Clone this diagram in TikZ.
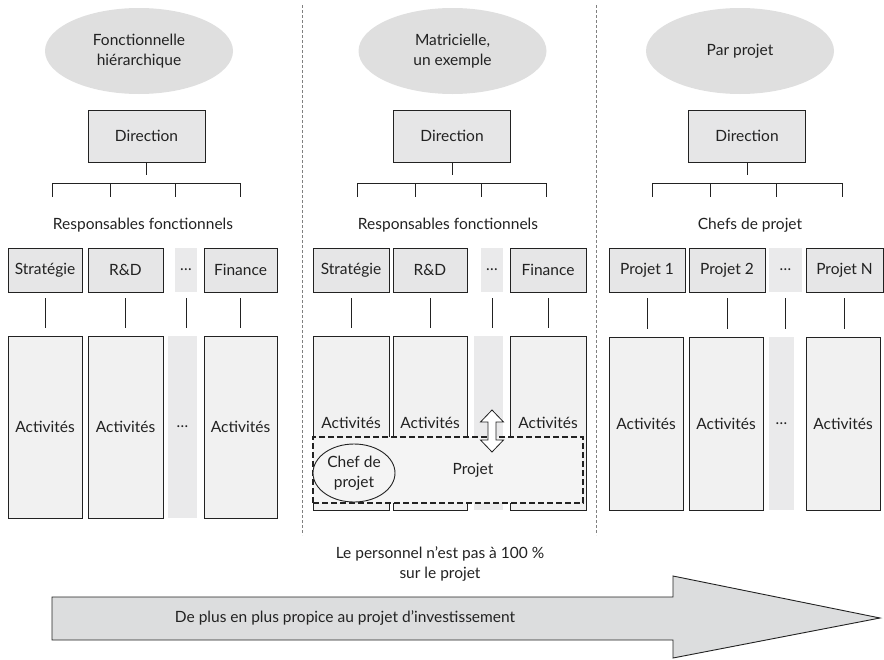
\documentclass[tikz,border=0pt]{standalone}
\usepackage{fontspec}
\setmainfont{Lato}
\usetikzlibrary{positioning,calc,shapes.geometric}
\definecolor{ellgray}{HTML}{DFDFDF}
\definecolor{boxgray}{HTML}{E6E6E7}
\definecolor{actgray}{HTML}{F1F1F1}
\definecolor{gapgray}{HTML}{EAEAEB}
\definecolor{projgray}{HTML}{F4F4F4}
\definecolor{arrgray}{HTML}{DCDDDE}
\definecolor{ink}{HTML}{222222}

\begin{document}
\begin{tikzpicture}[
    x=1pt, y=-1pt,
    every node/.style={align=center, font=\fontsize{15.5}{19.5}\selectfont, text=ink},
    kind/.style={
        ellipse, fill=ellgray, minimum width=188pt, minimum height=86pt
    },
    dirbox/.style={
        rectangle, draw=ink, fill=boxgray, line width=0.9pt,
        minimum width=117pt, minimum height=52pt
    },
    headbox/.style={
        rectangle, draw=ink, fill=boxgray, line width=0.9pt,
        minimum height=44pt, inner sep=0pt
    },
    gapbox/.style={rectangle, fill=gapgray, inner sep=0pt},
    actbox/.style={
        rectangle, draw=ink, fill=actgray, line width=0.9pt, inner sep=0pt
    },
    stem/.style={ink, line width=0.9pt},
    divider/.style={gray, line width=0.7pt, dash pattern=on 3pt off 2pt}
]
\useasboundingbox (0,0) rectangle (884,659);

% séparateurs
\draw[divider] (302,5) -- (302,535);
\draw[divider] (596,5) -- (596,535);

% Fonctionnelle hiérarchique
\node[kind] (hier-kind) at (139,51) {Fonctionnelle\\hiérarchique};
\node[dirbox] (hier-dir) at (146.5,136) {Direction};
\node (hier-title) at (143,225) {Responsables fonctionnels};
\node[headbox, minimum width=74pt] (hier-strat) at (45,270) {Stratégie};
\node[headbox, minimum width=75pt] (hier-rd) at (125.5,270) {R\&D};
\node[gapbox, minimum width=22pt, minimum height=44pt] (hier-gap) at (186,270) {\dots};
\node[headbox, minimum width=73pt] (hier-fin) at (240.5,270) {Finance};
\node[actbox, minimum width=74pt, minimum height=182pt] (hier-act1) at (45,427) {Activités};
\node[actbox, minimum width=75pt, minimum height=182pt] (hier-act2) at (125.5,427) {Activités};
\node[gapbox, minimum width=29pt, minimum height=182pt] (hier-act3) at (182.5,427) {\dots};
\node[actbox, minimum width=73pt, minimum height=182pt] (hier-act4) at (240.5,427) {Activités};

% Matricielle
\node[kind] (mat-kind) at (452.5,51) {Matricielle,\\un exemple};
\node[dirbox] (mat-dir) at (452,136) {Direction};
\node (mat-title) at (448,225) {Responsables fonctionnels};
\node[headbox, minimum width=76pt] (mat-strat) at (351,270) {Stratégie};
\node[headbox, minimum width=74pt] (mat-rd) at (430,270) {R\&D};
\node[gapbox, minimum width=22pt, minimum height=44pt] (mat-gap) at (492,270) {\dots};
\node[headbox, minimum width=76pt] (mat-fin) at (548,270) {Finance};
\node[actbox, minimum width=76pt, minimum height=174pt] (mat-act1) at (351,423) {Activités};
\node[actbox, minimum width=74pt, minimum height=174pt] (mat-act2) at (430,423) {Activités};
\node[gapbox, minimum width=29pt, minimum height=174pt] (mat-act3) at (488.5,423) {};
\node[actbox, minimum width=76pt, minimum height=174pt] (mat-act4) at (548,423) {Activités};

% Par projet
\node[kind] (proj-kind) at (740,51) {Par projet};
\node[dirbox] (proj-dir) at (747,136) {Direction};
\node (proj-title) at (750,225) {Chefs de projet};
\node[headbox, minimum width=76pt] (proj-p1) at (647,270) {Projet 1};
\node[headbox, minimum width=76pt] (proj-p2) at (727,270) {Projet 2};
\node[gapbox, minimum width=33pt, minimum height=44pt] (proj-gap) at (785.5,270) {\dots};
\node[headbox, minimum width=77pt] (proj-pn) at (844.5,270) {Projet N};
\node[actbox, minimum width=74pt, minimum height=173pt] (proj-act1) at (646,423.5) {Activités};
\node[actbox, minimum width=74pt, minimum height=173pt] (proj-act2) at (726,423.5) {Activités};
\node[gapbox, minimum width=25pt, minimum height=173pt] (proj-act3) at (781.5,423.5) {\dots};
\node[actbox, minimum width=74pt, minimum height=173pt] (proj-act4) at (843,423.5) {Activités};

% liaisons Direction -> responsables
\foreach \p/\a/\b/\c/\d in {hier/52/110/175/240, mat/357/415/481/546, proj/652/710/776/842} {
    \draw[stem] (\p-dir.south) -- ++(0,13);
    \draw[stem] (\a,197) -- (\a,183) -- (\d,183) -- (\d,197);
    \draw[stem] (\b,183) -- (\b,197);
    \draw[stem] (\c,183) -- (\c,197);
}
\foreach \top/\bot in {hier-strat/hier-act1, hier-rd/hier-act2, hier-gap/hier-act3, hier-fin/hier-act4,
                       mat-strat/mat-act1, mat-rd/mat-act2, mat-gap/mat-act3, mat-fin/mat-act4,
                       proj-p1/proj-act1, proj-p2/proj-act2, proj-gap/proj-act3, proj-pn/proj-act4}
    \draw[stem, shorten <=6pt, shorten >=8pt] (\top.south) -- (\top.south |- \bot.north);

% projet transverse
\node[draw=ink, fill=projgray, line width=1.8pt, dash pattern=on 6pt off 3pt,
      minimum width=270pt, minimum height=66pt] (mat-proj) at (448,470) {};
\node (mat-projlabel) at (473,470) {Projet};
\node[ellipse, draw=ink, line width=0.9pt, fill=projgray, inner sep=0pt,
      minimum width=82pt, minimum height=58pt] (mat-chef) at (354,473) {Chef de\\projet};
\draw[ink, line width=0.8pt, fill=white]
    (492,410) -- (503.5,422) -- (496,422) -- (496,440) -- (503.5,440) -- (492,452)
    -- (480.5,440) -- (488,440) -- (488,422) -- (480.5,422) -- cycle;

% bas
\node (note) at (440,564) {Le personnel n'est pas à 100~\%\\sur le projet};
\draw[ink, line width=0.9pt, fill=arrgray]
    (52,597) -- (673,597) -- (673,576) -- (880,618) -- (673,658) -- (673,640) -- (52,640) -- cycle;
\node (trend) at (345,618) {De plus en plus propice au projet d'investissement};
\end{tikzpicture}
\end{document}
